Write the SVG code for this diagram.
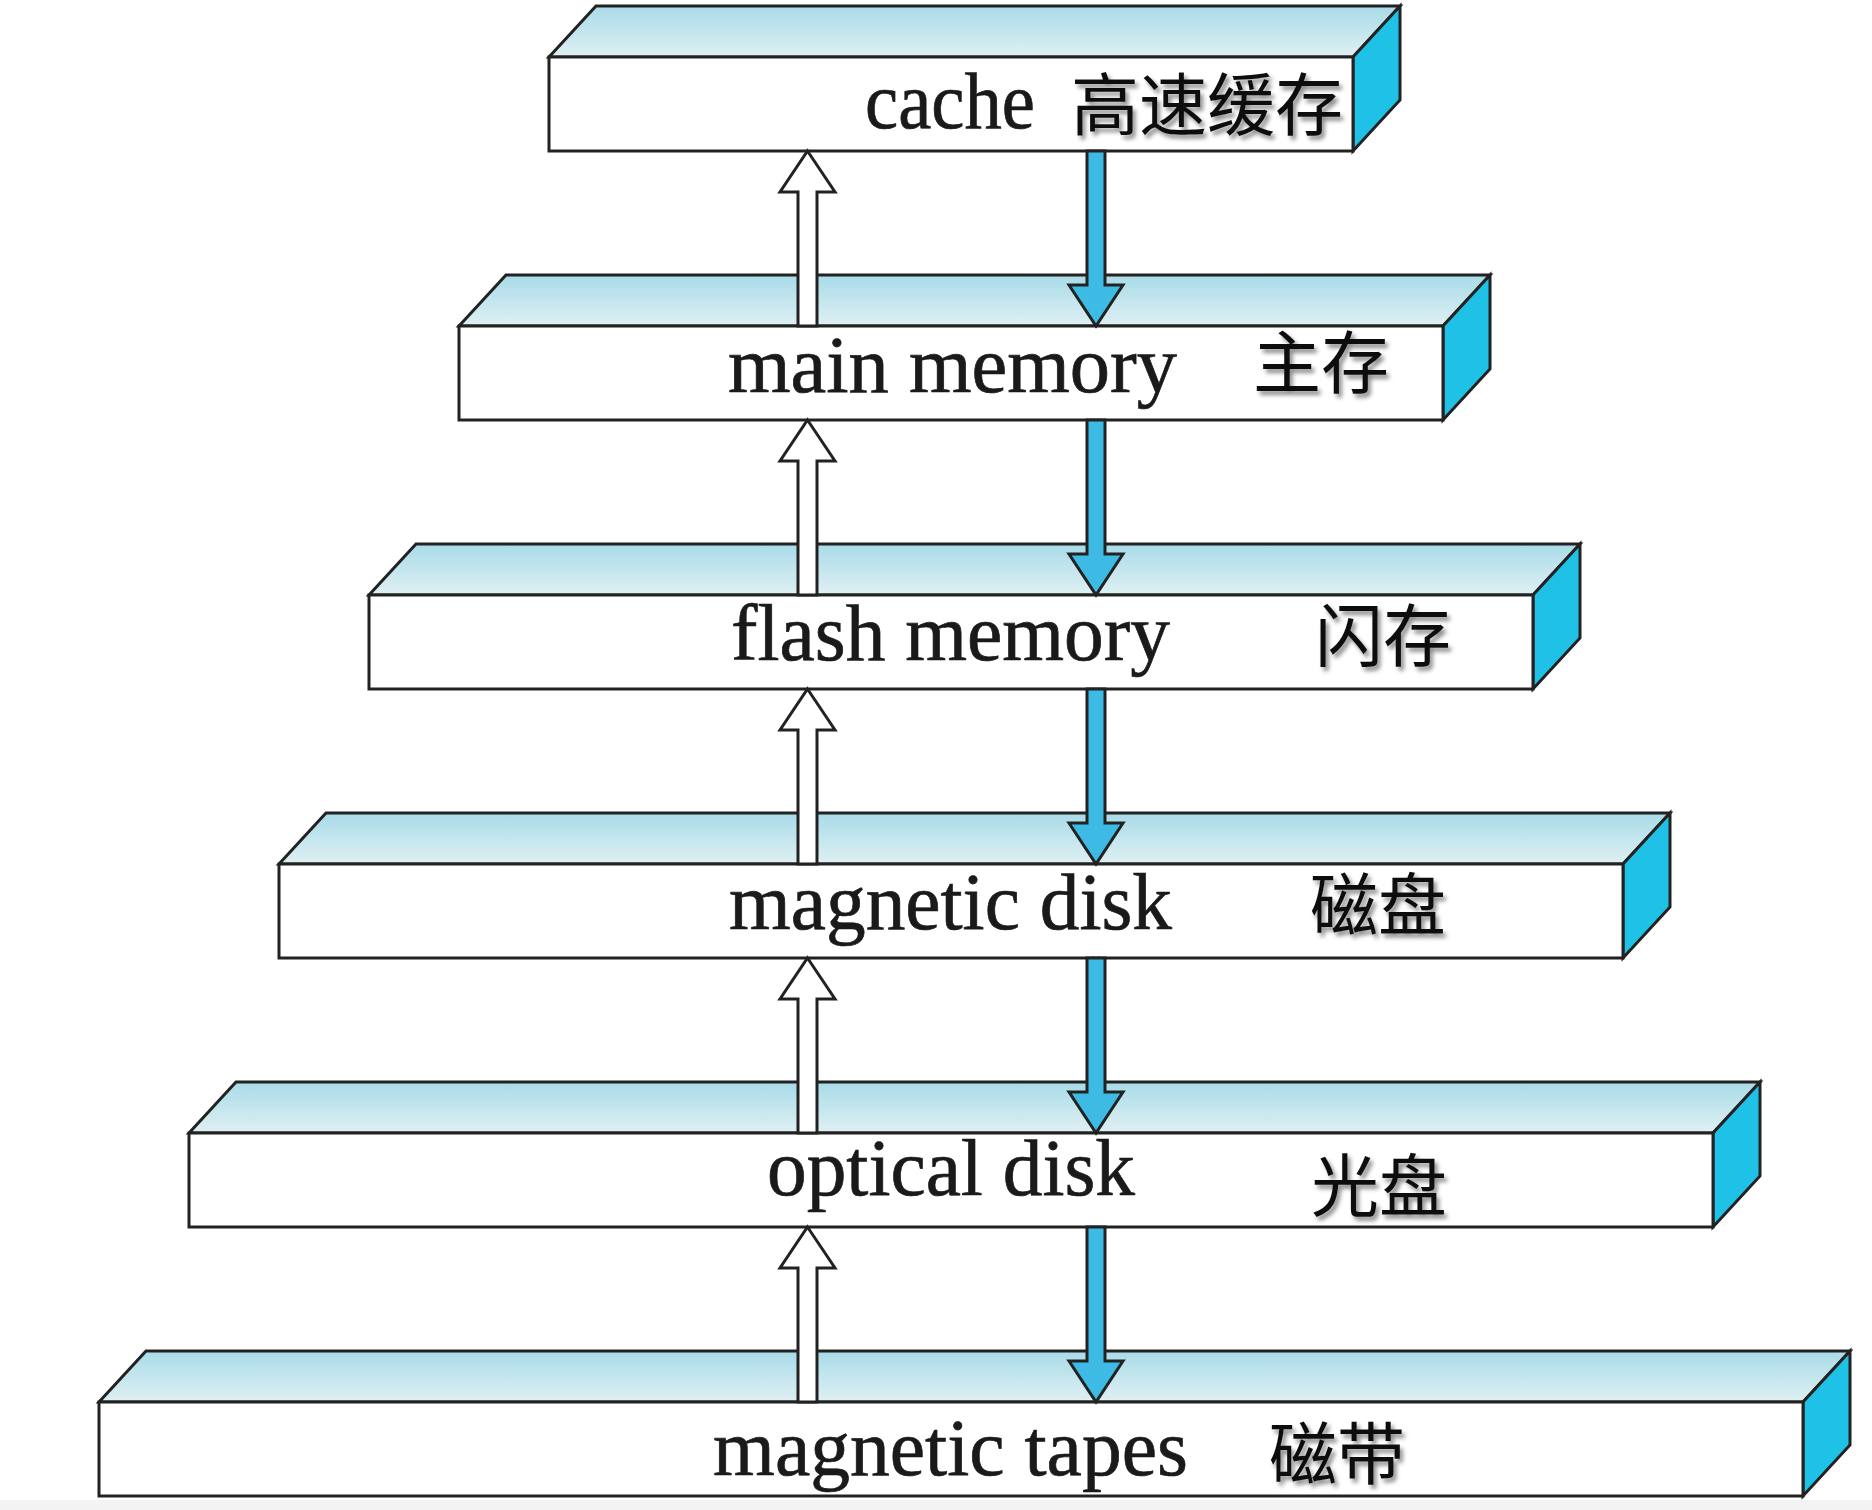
<svg xmlns="http://www.w3.org/2000/svg" width="1872" height="1510" viewBox="0 0 1872 1510">
<style>
.front{fill:#ffffff;stroke:#222;stroke-width:3;stroke-linejoin:miter}
.top{fill:url(#topGrad);stroke:#222;stroke-width:3;stroke-linejoin:miter}
.side{fill:#1fc2e6;stroke:#222;stroke-width:3;stroke-linejoin:miter}
.en{font-family:"Liberation Serif","DejaVu Serif",serif;font-size:80px;fill:#1a1a1a;stroke:#1a1a1a;stroke-width:0.7}
.zh{font-family:"Noto Sans CJK SC","Noto Sans",sans-serif;font-size:68px;fill:#111;filter:url(#shadow)}
.up{fill:#ffffff;stroke:#222;stroke-width:3;stroke-linejoin:miter}
.down{fill:#3dbbe4;stroke:#222;stroke-width:3;stroke-linejoin:miter}
</style>
<defs>
<linearGradient id="topGrad" x1="0" y1="0" x2="0" y2="1">
<stop offset="0" stop-color="#a8dbe8"/>
<stop offset="1" stop-color="#dff0f3"/>
</linearGradient>
<filter id="shadow" x="-10%" y="-10%" width="130%" height="140%">
<feDropShadow dx="3" dy="4" stdDeviation="2" flood-color="#000" flood-opacity="0.45"/>
</filter>
</defs>
<rect x="0" y="0" width="1872" height="1510" fill="#ffffff"/>
<rect x="0" y="1500" width="1872" height="10" fill="#f3f3f3"/>

<g id="cache">
<polygon class="top" points="549,57 596,6 1400,6 1353,57"/>
<polygon class="side" points="1353,57 1400,6 1400,100 1353,151"/>
<rect class="front" x="549" y="57" width="804" height="94"/>
<text class="en" x="865" y="128" textLength="170" lengthAdjust="spacingAndGlyphs">cache</text>
<text class="zh" x="1071" y="130">高速缓存</text>
</g>

<g id="main-memory">
<polygon class="top" points="459,326 506,275 1490,275 1443,326"/>
<polygon class="side" points="1443,326 1490,275 1490,369 1443,420"/>
<rect class="front" x="459" y="326" width="984" height="94"/>
<text class="en" x="728" y="392" textLength="449" lengthAdjust="spacingAndGlyphs">main memory</text>
<text class="zh" x="1253" y="388">主存</text>
</g>

<g id="flash-memory">
<polygon class="top" points="369,595 416,544 1580,544 1533,595"/>
<polygon class="side" points="1533,595 1580,544 1580,638 1533,689"/>
<rect class="front" x="369" y="595" width="1164" height="94"/>
<text class="en" x="731" y="660" textLength="439" lengthAdjust="spacingAndGlyphs">flash memory</text>
<text class="zh" x="1315" y="661">闪存</text>
</g>

<g id="magnetic-disk">
<polygon class="top" points="279,864 326,813 1670,813 1623,864"/>
<polygon class="side" points="1623,864 1670,813 1670,907 1623,958"/>
<rect class="front" x="279" y="864" width="1344" height="94"/>
<text class="en" x="729" y="929" textLength="443" lengthAdjust="spacingAndGlyphs">magnetic disk</text>
<text class="zh" x="1310" y="930">磁盘</text>
</g>

<g id="optical-disk">
<polygon class="top" points="189,1133 236,1082 1760,1082 1713,1133"/>
<polygon class="side" points="1713,1133 1760,1082 1760,1176 1713,1227"/>
<rect class="front" x="189" y="1133" width="1524" height="94"/>
<text class="en" x="767" y="1195" textLength="368" lengthAdjust="spacingAndGlyphs">optical disk</text>
<text class="zh" x="1311" y="1211">光盘</text>
</g>

<g id="magnetic-tapes">
<polygon class="top" points="99,1402 146,1351 1850,1351 1803,1402"/>
<polygon class="side" points="1803,1402 1850,1351 1850,1445 1803,1496"/>
<rect class="front" x="99" y="1402" width="1704" height="94"/>
<text class="en" x="713" y="1475" textLength="475" lengthAdjust="spacingAndGlyphs">magnetic tapes</text>
<text class="zh" x="1269" y="1479">磁带</text>
</g>

<g id="connectors">
<path class="up" d="M807.5,151 L835,192 L817,192 L817,326 L798,326 L798,192 L780,192 Z"/>
<path class="up" d="M807.5,420 L835,461 L817,461 L817,595 L798,595 L798,461 L780,461 Z"/>
<path class="up" d="M807.5,689 L835,730 L817,730 L817,864 L798,864 L798,730 L780,730 Z"/>
<path class="up" d="M807.5,958 L835,999 L817,999 L817,1133 L798,1133 L798,999 L780,999 Z"/>
<path class="up" d="M807.5,1227 L835,1268 L817,1268 L817,1402 L798,1402 L798,1268 L780,1268 Z"/>
<path class="down" d="M1087,151 L1105,151 L1105,285 L1123,285 L1096,326 L1069,285 L1087,285 Z"/>
<path class="down" d="M1087,420 L1105,420 L1105,554 L1123,554 L1096,595 L1069,554 L1087,554 Z"/>
<path class="down" d="M1087,689 L1105,689 L1105,823 L1123,823 L1096,864 L1069,823 L1087,823 Z"/>
<path class="down" d="M1087,958 L1105,958 L1105,1092 L1123,1092 L1096,1133 L1069,1092 L1087,1092 Z"/>
<path class="down" d="M1087,1227 L1105,1227 L1105,1361 L1123,1361 L1096,1402 L1069,1361 L1087,1361 Z"/>
</g>
</svg>
